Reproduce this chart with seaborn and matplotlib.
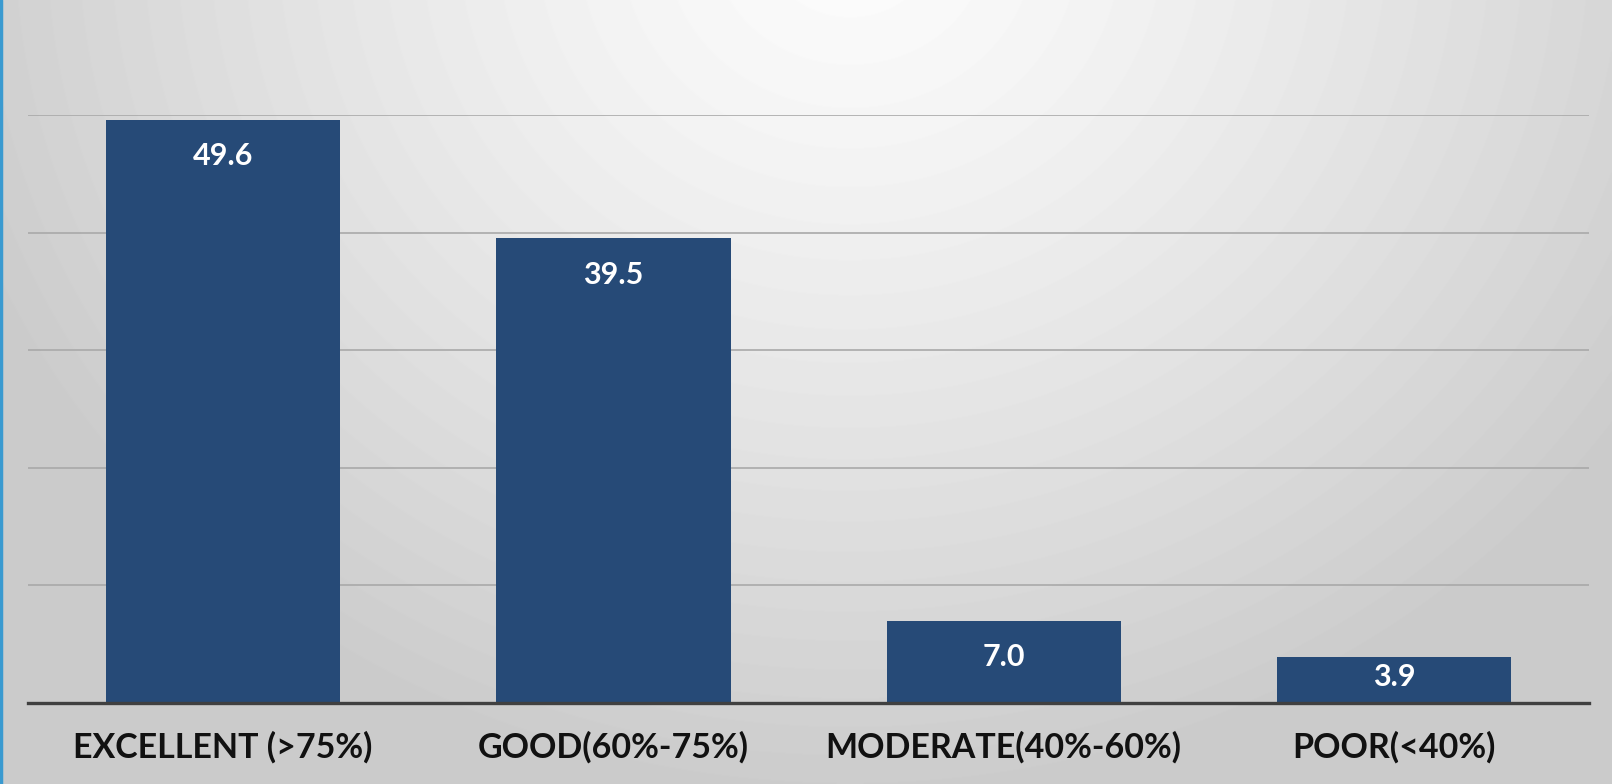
import numpy as np
import pandas as pd
import matplotlib
matplotlib.use("Agg")
import matplotlib.pyplot as plt
import seaborn as sns

categories = ["EXCELLENT (>75%)", "GOOD(60%-75%)", "MODERATE(40%-60%)", "POOR(<40%)"]
values = [49.6, 39.5, 7.0, 3.9]

sns.set_theme(style="white")
plt.rcParams['font.family'] = ['Lato', 'DejaVu Sans']

fig = plt.figure(figsize=(16.12, 7.84), dpi=100)

# sfondo con gradiente radiale (bianco in alto al centro, grigio ai bordi)
bg = fig.add_axes([0, 0, 1, 1], zorder=-10)
h, w = 784, 1612
yy, xx = np.mgrid[0:h, 0:w]
dist = np.sqrt((xx - 850) ** 2 + ((yy + 60) * 1.1) ** 2)
t = np.clip(dist / 950, 0, 1) ** 1.25
shade = 0.99 - t * (0.99 - 0.795)
bg.imshow(shade, cmap="gray", vmin=0, vmax=1, aspect="auto", extent=[0, 1, 0, 1])
bg.axvline(0.0008, color="#3a9ad0", lw=2.5)
bg.set_axis_off()

ax = fig.add_axes([0.0174, 0.1033, 0.9684, 0.75])
ax.patch.set_alpha(0)

df = pd.DataFrame({"categoria": categories, "valore": values})
sns.barplot(data=df, x="categoria", y="valore", color="#264a77", saturation=1,
            width=0.6, linewidth=0, ax=ax, zorder=3)

ax.set_ylim(0, 50)
ax.set_xlim(-0.5, 3.5)
ax.set_yticks([10, 20, 30, 40, 50])
ax.yaxis.grid(True, color="#a9a9a9", lw=1.2)
ax.set_axisbelow(True)
ax.tick_params(axis="y", left=False, labelleft=False)
ax.tick_params(axis="x", length=0, pad=20)
for lbl in ax.get_xticklabels():
    lbl.set_fontsize(24.5)
    lbl.set_fontweight("bold")
    lbl.set_color("#111111")
ax.set_xlabel("")
ax.set_ylabel("")
for s in ["top", "right", "left"]:
    ax.spines[s].set_visible(False)
ax.spines["bottom"].set_color("#404040")
ax.spines["bottom"].set_linewidth(2.4)
ax.spines["bottom"].set_zorder(4)

# etichette dei valori dentro le barre
for i, v in enumerate(values):
    y_lab = max(v - 3.1, 2.2)
    ax.text(i, y_lab, f"{v:.1f}", ha="center", va="center", color="white",
            fontsize=22, fontweight="bold", zorder=5)

fig.savefig("out.png", dpi=100)
